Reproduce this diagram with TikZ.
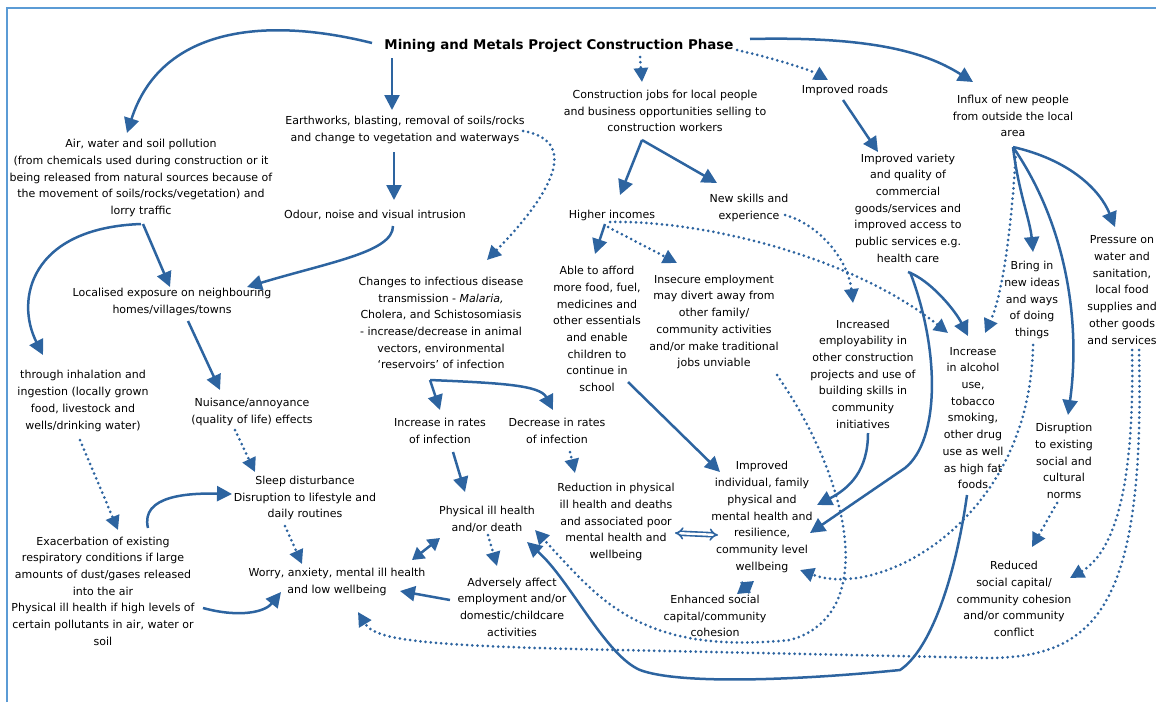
\documentclass[tikz,border=0pt]{standalone}
\usepackage{fontspec}
\setmainfont{DejaVu Sans}
\usetikzlibrary{arrows.meta}
\definecolor{ablue}{RGB}{45,100,160}
\definecolor{fblue}{RGB}{91,155,213}
\tikzset{
  lbl/.style={align=center, inner sep=0pt, font=\fontsize{11}{16.7}\selectfont},
  arr/.style={draw=ablue, line width=2.5pt, -{Triangle[length=15pt,width=15pt]}},
  dotarr/.style={draw=ablue, line width=3pt, line cap=round, dash pattern=on 0pt off 5.2pt, -{Triangle[length=14pt,width=14pt]}},
  dblarr/.style={draw=ablue, line width=2.5pt, {Triangle[length=12pt,width=14pt]}-{Triangle[length=12pt,width=14pt]}},
  implarr/.style={draw=ablue, double=white, double distance=2.4pt, line width=1.6pt, {Implies}-{Implies}},
}
\begin{document}
\begin{tikzpicture}[x=1pt,y=-1pt]
\useasboundingbox (0,0) rectangle (1156,702);
\draw[fblue, line width=2.5pt] (7,702) -- (7,8) -- (1156,8);

% nodes
\node[lbl] (title) at (559,46) {\fontsize{13.4}{16}\selectfont\bfseries Mining and Metals Project Construction Phase};
\node[lbl] (earth) at (405,130) {Earthworks, blasting, removal of soils/rocks\\and change to vegetation and waterways};
\node[lbl] (odour) at (375,215) {Odour, noise and visual intrusion};
\node[lbl] (air) at (141,178) {Air, water and soil pollution\\(from chemicals used during construction or it\\being released from natural sources because of\\the movement of soils/rocks/vegetation) and\\lorry traffic};
\node[lbl] (local) at (172,302) {Localised exposure on neighbouring\\homes/villages/towns};
\node[lbl] (inhal) at (83,401) {through inhalation and\\ingestion (locally grown\\food, livestock and\\wells/drinking water)};
\node[lbl] (nuis) at (252,412) {Nuisance/annoyance\\(quality of life) effects};
\node[lbl] (sleep) at (305,498) {Sleep disturbance\\Disruption to lifestyle and\\daily routines};
\node[lbl] (exac) at (103,591) {Exacerbation of existing\\respiratory conditions if large\\amounts of dust/gases released\\into the air\\Physical ill health if high levels of\\certain pollutants in air, water or\\soil};
\node[lbl] (worry) at (337,582) {Worry, anxiety, mental ill health\\and low wellbeing};
\node[lbl] (infect) at (441,323) {Changes to infectious disease\\transmission - \textit{Malaria,}\\Cholera, and Schistosomiasis\\- increase/decrease in animal\\vectors, environmental\\`reservoirs' of infection};
\node[lbl] (incr) at (440,431) {Increase in rates\\of infection};
\node[lbl] (decr) at (557,431) {Decrease in rates\\of infection};
\node[lbl] (phys) at (487,519) {Physical ill health\\and/or death};
\node[lbl] (advers) at (512,607) {Adversely affect\\employment and/or\\domestic/childcare\\activities};
\node[lbl] (reduct) at (616,522) {Reduction in physical\\ill health and deaths\\and associated poor\\mental health and\\wellbeing};
\node[lbl] (constr) at (665,111) {Construction jobs for local people\\and business opportunities selling to\\construction workers};
\node[lbl] (higher) at (612,215) {Higher incomes};
\node[lbl] (newsk) at (749,208) {New skills and\\experience};
\node[lbl] (afford) at (597,329) {Able to afford\\more food, fuel,\\medicines and\\other essentials\\and enable\\children to\\continue in\\school};
\node[lbl] (insec) at (714,322) {Insecure employment\\may divert away from\\other family/\\community activities\\and/or make traditional\\jobs unviable};
\node[lbl] (roads) at (845,90) {Improved roads};
\node[lbl] (influx) at (1013,116) {Influx of new people\\from outside the local\\area};
\node[lbl] (variety) at (908,208) {Improved variety\\and quality of\\commercial\\goods/services and\\improved access to\\public services e.g.\\health care};
\node[lbl] (bring) at (1032,300) {Bring in\\new ideas\\and ways\\of doing\\things};
\node[lbl] (press) at (1122,290) {Pressure on\\water and\\sanitation,\\local food\\supplies and\\other goods\\and services};
\node[lbl] (employ) at (863,374) {Increased\\employability in\\other construction\\projects and use of\\building skills in\\community\\initiatives};
\node[lbl] (alcohol) at (973,418) {Increase\\in alcohol\\use,\\tobacco\\smoking,\\other drug\\use as well\\as high fat\\foods};
\node[lbl] (disrup) at (1064,461) {Disruption\\to existing\\social and\\cultural\\norms};
\node[lbl] (reduced) at (1014,599) {Reduced\\social capital/\\community cohesion\\and/or community\\conflict};
\node[lbl] (improved) at (762,517) {Improved\\individual, family\\physical and\\mental health and\\resilience,\\community level\\wellbeing};
\node[lbl] (enhanced) at (715,616) {Enhanced social\\capital/community\\cohesion};

% connectors
\draw[arr] ([shift={(-187,-3)}]title.center) .. controls (260,15) and (160,30) .. ([shift={(-14,-45)}]air.center);
\draw[arr] ([shift={(-167,12)}]title.center) -- ([shift={(-13,-20)}]earth.center);
\draw[arr] ([shift={(-11,22)}]earth.center) -- ([shift={(19,-15)}]odour.center);
\draw[arr] ([shift={(18,11)}]odour.center) .. controls (393,252) and (330,262) .. ([shift={(75,-15)}]local.center);
\draw[arr] ([shift={(2,46)}]air.center) -- ([shift={(-2,-15)}]local.center);
\draw[arr] ([shift={(0,46)}]air.center) .. controls (30,228) and (15,300) .. ([shift={(-40,-46)}]inhal.center);
\draw[arr] ([shift={(16,19)}]local.center) -- ([shift={(-32,-22)}]nuis.center);
\draw[dotarr] ([shift={(-17,18)}]nuis.center) -- ([shift={(-50,-26)}]sleep.center);
\draw[dotarr] ([shift={(-3,39)}]inhal.center) -- ([shift={(15,-61)}]exac.center);
\draw[arr] ([shift={(45,-63)}]exac.center) .. controls (140,495) and (190,493) .. ([shift={(-73,-4)}]sleep.center);
\draw[arr] ([shift={(100,17)}]exac.center) .. controls (240,618) and (265,612) .. ([shift={(-56,10)}]worry.center);
\draw[dotarr] ([shift={(-20,28)}]sleep.center) -- ([shift={(-35,-18)}]worry.center);
\draw[dotarr] ([shift={(118,1)}]earth.center) .. controls (575,140) and (560,185) .. ([shift={(46,-63)}]infect.center);
\draw[arr] ([shift={(-11,57)}]infect.center) -- ([shift={(0,-21)}]incr.center);
\draw[arr] ([shift={(-11,57)}]infect.center) .. controls (500,383) and (540,385) .. ([shift={(-4,-21)}]decr.center);
\draw[arr] ([shift={(13,21)}]incr.center) -- ([shift={(-22,-27)}]phys.center);
\draw[dotarr] ([shift={(13,21)}]decr.center) -- ([shift={(-41,-49)}]reduct.center);
\draw[dblarr] ([shift={(-47,19)}]phys.center) -- ([shift={(75,-22)}]worry.center);
\draw[dotarr] ([shift={(1,16)}]phys.center) -- ([shift={(-15,-41)}]advers.center);
\draw[arr] ([shift={(-62,-7)}]advers.center) -- ([shift={(63,9)}]worry.center);
\draw[implarr] ([shift={(59,11)}]reduct.center) -- ([shift={(-44,18)}]improved.center);
\draw[dotarr] ([shift={(81,11)}]title.center) -- ([shift={(-23,-29)}]constr.center);
\draw[arr] ([shift={(-23,29)}]constr.center) -- ([shift={(8,-20)}]higher.center);
\draw[arr] ([shift={(-23,29)}]constr.center) -- ([shift={(-32,-25)}]newsk.center);
\draw[arr] ([shift={(-7,9)}]higher.center) -- ([shift={(-2,-75)}]afford.center);
\draw[dotarr] ([shift={(-4,12)}]higher.center) -- ([shift={(-37,-59)}]insec.center);
\draw[dotarr] ([shift={(-2,7)}]higher.center) .. controls (700,220) and (850,255) .. ([shift={(-25,-85)}]alcohol.center);
\draw[dotarr] ([shift={(36,7)}]newsk.center) .. controls (820,225) and (848,260) .. ([shift={(-10,-71)}]employ.center);
\draw[arr] ([shift={(0,64)}]variety.center) .. controls (930,280) and (955,310) .. ([shift={(-5,-82)}]alcohol.center);
\draw[arr] ([shift={(2,64)}]variety.center) .. controls (940,350) and (940,440) .. (905,468) -- ([shift={(48,16)}]improved.center);
\draw[arr] ([shift={(5,59)}]employ.center) .. controls (868,470) and (850,488) .. ([shift={(55,-12)}]improved.center);
\draw[arr] ([shift={(-2,10)}]roads.center) -- ([shift={(-30,-56)}]variety.center);
\draw[dotarr] ([shift={(178,4)}]title.center) .. controls (780,60) and (810,70) .. ([shift={(-17,-10)}]roads.center);
\draw[arr] ([shift={(191,-7)}]title.center) .. controls (880,36) and (930,55) .. ([shift={(-40,-34)}]influx.center);
\draw[arr] ([shift={(0,31)}]influx.center) .. controls (1018,190) and (1030,220) .. ([shift={(1,-48)}]bring.center);
\draw[arr] ([shift={(0,31)}]influx.center) .. controls (1070,230) and (1080,330) .. ([shift={(4,-46)}]disrup.center);
\draw[arr] ([shift={(0,31)}]influx.center) .. controls (1070,160) and (1100,190) .. ([shift={(-7,-63)}]press.center);
\draw[dotarr] ([shift={(3,36)}]influx.center) .. controls (1010,250) and (1000,300) .. ([shift={(12,-85)}]alcohol.center);
\draw[dotarr] ([shift={(1,45)}]bring.center) .. controls (1030,520) and (880,600) .. ([shift={(38,53)}]improved.center);
\draw[dotarr] ([shift={(-7,42)}]disrup.center) -- ([shift={(18,-52)}]reduced.center);
\draw[dotarr] ([shift={(10,60)}]press.center) .. controls (1135,500) and (1110,555) .. ([shift={(56,-21)}]reduced.center);
\draw[dotarr] ([shift={(17,60)}]press.center) .. controls (1145,600) and (1100,657) .. (990,658) -- (620,650) .. controls (420,646) and (375,640) .. ([shift={(21,30)}]worry.center);
\draw[dotarr] ([shift={(63,53)}]insec.center) .. controls (850,480) and (880,615) .. (790,640) .. controls (640,655) and (600,600) .. ([shift={(48,11)}]phys.center);
\draw[arr] ([shift={(-6,77)}]alcohol.center) .. controls (955,580) and (930,650) .. (900,670) .. controls (800,680) and (680,685) .. (640,670) .. controls (605,655) and (570,580) .. ([shift={(40,23)}]phys.center);
\draw[arr] ([shift={(31,53)}]afford.center) -- ([shift={(-42,-45)}]improved.center);
\draw[dblarr] ([shift={(22,-22)}]enhanced.center) -- ([shift={(-8,64)}]improved.center);
\end{tikzpicture}
\end{document}
